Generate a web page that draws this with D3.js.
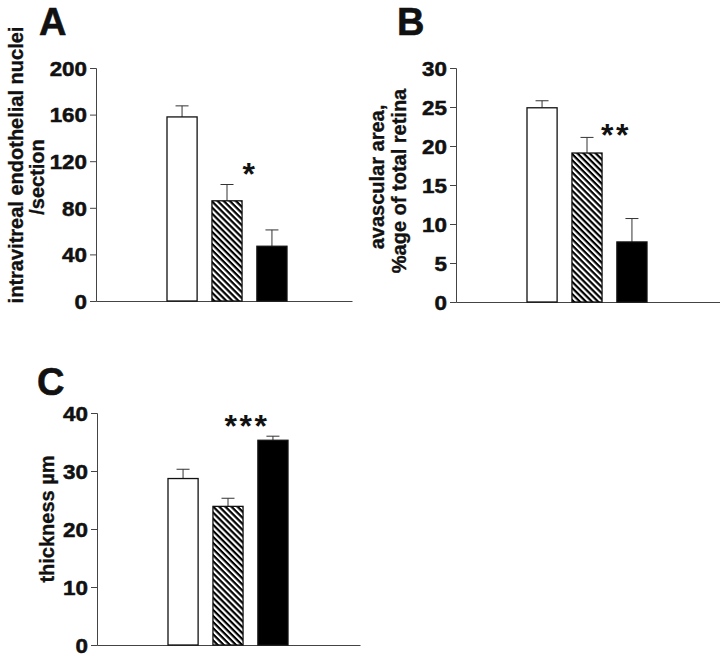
<!DOCTYPE html>
<html>
<head>
<meta charset="utf-8">
<script src="https://cdn.jsdelivr.net/npm/d3@7"></script>
<style>
  html, body { margin: 0; padding: 0; background: #fff; }
  svg { display: block; }
  text { font-family: "Liberation Sans", Arial, Helvetica, sans-serif; font-weight: bold; fill: #111; }
</style>
</head>
<body>
<svg id="chart" width="720" height="656"></svg>
<script>
// ---- data ----
const groups = ["control", "treatment 1", "treatment 2"];
const fills = ["white", "hatch", "black"];

const nucleiMean = [158, 86, 47];
const nucleiSem  = [9.5, 14, 14];
const nucleiTicks = [0, 40, 80, 120, 160, 200];

const avascularMean = [24.9, 19.1, 7.7];
const avascularSem  = [0.9, 2.0, 3.0];
const avascularTicks = [0, 5, 10, 15, 20, 25, 30];

const thicknessMean = [28.7, 23.9, 35.3];
const thicknessSem  = [1.6, 1.4, 0.7];
const thicknessTicks = [0, 10, 20, 30, 40];

const panels = [
  { letter: "A", mean: nucleiMean, sem: nucleiSem, ticks: nucleiTicks, max: 200,
    label: ["intravitreal endothelial nuclei", "/section"], labelX: [16, 37], labelY: [165, 177],
    axisX: 96, top: 68, bottom: 301, right: 352, letterX: 39, letterY: 35,
    sig: "*", sigX: 250, sigY: 185 },
  { letter: "B", mean: avascularMean, sem: avascularSem, ticks: avascularTicks, max: 30,
    label: ["avascular area,", "%age of total retina"], labelX: [377, 399], labelY: [177, 181],
    axisX: 456, top: 68, bottom: 302, right: 720, letterX: 397, letterY: 35,
    sig: "**", sigX: 616, sigY: 146 },
  { letter: "C", mean: thicknessMean, sem: thicknessSem, ticks: thicknessTicks, max: 40,
    label: ["thickness µm"], labelX: [47], labelY: [519],
    axisX: 97, top: 413, bottom: 645, right: 360, letterX: 37, letterY: 395,
    sig: "***", sigX: 247, sigY: 437 }
];

const svg = d3.select("#chart");

// hatch pattern (stripes running top-left to bottom-right)
const defs = svg.append("defs");
const pat = defs.append("pattern")
  .attr("id", "hatch").attr("patternUnits", "userSpaceOnUse")
  .attr("width", 4.3).attr("height", 4.3)
  .attr("patternTransform", "rotate(45)");
pat.append("rect").attr("width", 4.3).attr("height", 4.3).attr("fill", "white");
pat.append("rect").attr("x", 0).attr("y", 0).attr("width", 4.3).attr("height", 2.2).attr("fill", "black");

panels.forEach(p => {
  const g = svg.append("g");
  const y = d3.scaleLinear().domain([0, p.max]).range([p.bottom, p.top]);
  const x = d3.scaleBand().domain(groups)
    .range([p.axisX + 71, p.axisX + 191]).paddingInner(0.33).paddingOuter(0);

  // y axis
  const yAxis = d3.axisLeft(y).tickValues(p.ticks).tickSize(6).tickPadding(3).tickFormat(d3.format("d"));
  const ga = g.append("g").attr("transform", `translate(${p.axisX},0)`).call(yAxis);
  ga.select(".domain").attr("stroke", "#444").attr("stroke-width", 1);
  ga.selectAll(".tick line").attr("stroke", "#444");
  ga.selectAll(".tick text")
    .attr("font-size", 20).attr("font-family", "Liberation Sans, Arial, sans-serif")
    .attr("font-weight", "bold").attr("fill", "#111")
    .attr("stroke", "#111").attr("stroke-width", 0.5)
    .attr("x", 0).attr("dy", "0.36em")
    .attr("transform", "translate(-9,0) scale(1.12,1)");

  // x axis baseline
  const xa = d3.axisBottom(d3.scaleLinear().domain([0, 1]).range([p.axisX, p.right])).tickValues([]).tickSizeOuter(0);
  const gx = g.append("g").attr("transform", `translate(0,${p.bottom})`).call(xa);
  gx.select(".domain").attr("stroke", "#444").attr("stroke-width", 1.2);

  // error bars
  groups.forEach((grp, i) => {
    const cx = x(grp) + x.bandwidth() / 2;
    g.append("line").attr("x1", cx).attr("x2", cx)
      .attr("y1", y(p.mean[i])).attr("y2", y(p.mean[i] + p.sem[i]))
      .attr("stroke", "#333").attr("stroke-width", 1);
    g.append("line").attr("x1", cx - 6.5).attr("x2", cx + 6.5)
      .attr("y1", y(p.mean[i] + p.sem[i])).attr("y2", y(p.mean[i] + p.sem[i]))
      .attr("stroke", "#333").attr("stroke-width", 1);
  });

  // bars
  g.selectAll("rect.bar").data(groups).enter().append("rect")
    .attr("class", "bar")
    .attr("x", d => x(d))
    .attr("width", x.bandwidth())
    .attr("y", (d, i) => y(p.mean[i]))
    .attr("height", (d, i) => y(0) - y(p.mean[i]))
    .attr("fill", (d, i) => fills[i] === "hatch" ? "url(#hatch)" : fills[i])
    .attr("stroke", "#111").attr("stroke-width", 1.3);

  // y label
  p.label.forEach((t, k) => {
    g.append("text")
      .attr("transform", `translate(${p.labelX[k]},${p.labelY[k]}) rotate(-90)`)
      .attr("text-anchor", "middle").attr("dy", "0.35em")
      .attr("font-size", 20).attr("stroke", "#111").attr("stroke-width", 0.35)
      .text(t);
  });

  // panel letter
  g.append("text").attr("x", p.letterX).attr("y", p.letterY)
    .attr("font-size", 38).attr("stroke", "#111").attr("stroke-width", 0.6)
    .text(p.letter);

  // significance
  g.append("text").attr("x", p.sigX).attr("y", p.sigY)
    .attr("text-anchor", "middle").attr("font-size", 32)
    .attr("letter-spacing", 2.5).text(p.sig);
});
</script>
</body>
</html>
